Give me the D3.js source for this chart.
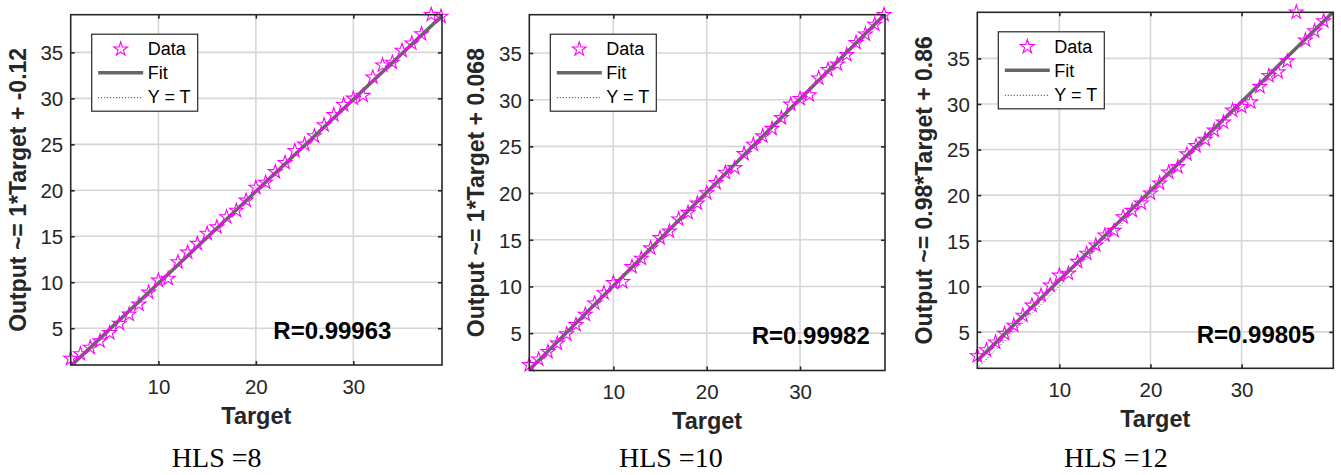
<!DOCTYPE html>
<html><head><meta charset="utf-8">
<script src="https://cdn.jsdelivr.net/npm/d3@7"></script>
<style>body{margin:0;background:#fff} svg{display:block}</style>
</head><body><svg id="c" width="1341" height="475"></svg>
<script>
const targets = [1,2,3,4,5,6,7,8,9,10,11,12,13,14,15,16,17,18,19,20,21,22,23,24,25,26,27,28,29,30,31,32,33,34,35,36,37,38,39];
const outputsHLS8 = [1.7,2.2,2.9,3.6,4.5,5.5,6.5,7.6,8.9,10.2,10.4,12.2,13.25,14.2,15.3,16.0,17.1,17.8,18.9,20.3,20.85,22.0,23.0,24.3,25.0,25.9,27.1,28.2,29.3,30.0,30.3,32.3,33.6,33.9,35.2,36.0,37.0,39.1,38.9];
const outputsHLS10 = [1.6,2.2,3.0,3.9,4.9,5.9,7.0,8.2,9.3,10.4,10.5,12.1,13.0,14.1,15.2,15.9,17.2,17.9,18.9,20.0,21.1,22.2,22.7,24.2,25.2,26.1,26.9,28.05,29.5,30.1,30.5,32.3,33.2,33.8,34.8,36.1,37.0,38.05,39.1];
const outputsHLS12 = [2.35,3.0,3.85,4.8,5.7,6.8,7.9,9.0,10.1,11.2,11.4,12.7,13.6,14.5,15.6,16.1,17.6,18.3,19.1,20.2,21.3,22.5,23.1,24.5,25.4,26.1,27.1,28.0,29.3,29.7,30.2,31.9,33.1,33.5,34.7,40.06,37.0,38.0,39.1];
const panelTitles = ["HLS =8","HLS =10","HLS =12"];
const fitSlopes = [1, 1, 0.98];
const fitIntercepts = [-0.12, 0.068, 0.86];
const yLabels = ["Output ~= 1*Target + -0.12","Output ~= 1*Target + 0.068","Output ~= 0.98*Target + 0.86"];
const rLabels = ["R=0.99963","R=0.99982","R=0.99805"];
const xTicks = [10,20,30];
const yTicks = [5,10,15,20,25,30,35];
const legendLabels = ["Data","Fit","Y = T"];
const xLabel = "Target";

const seriesOutputs = [outputsHLS8, outputsHLS10, outputsHLS12];

const layout = [
  {left:70.7, right:442, top:14.7, bottom:365, rx:273.3, ry:339, cap:216.7},
  {left:529.3, right:885, top:14.7, bottom:370.5, rx:751.7, ry:344.3, cap:670.8},
  {left:977.3, right:1333.3, top:12.3, bottom:368.3, rx:1196.7, ry:343.3, cap:1115.8}
];

const SANS = "'Liberation Sans', Arial, Helvetica, sans-serif";
const SERIF = "'Liberation Serif', 'Times New Roman', serif";
const AX = "#262626";
const MAG = "#ff00ff";
const FITC = "#666666";

const svg = d3.select("#c");
svg.append("rect").attr("width",1341).attr("height",475).attr("fill","#fff");

const star = d3.symbol().type(d3.symbolStar).size(60);

seriesOutputs.forEach((outs, i) => {
  const L = layout[i];
  const all = targets.concat(outs);
  const dom = d3.extent(all);
  const x = d3.scaleLinear().domain(dom).range([L.left, L.right]);
  const y = d3.scaleLinear().domain(dom).range([L.bottom, L.top]);
  const g = svg.append("g");
  const cid = "clip" + i;
  g.append("clipPath").attr("id", cid).append("rect")
    .attr("x", L.left).attr("y", L.top).attr("width", L.right - L.left).attr("height", L.bottom - L.top);

  // grid
  g.append("g").selectAll("line").data(xTicks).join("line")
    .attr("x1", d => x(d)).attr("x2", d => x(d)).attr("y1", L.top).attr("y2", L.bottom)
    .attr("stroke", "#d6d6d6").attr("stroke-width", 1.6);
  g.append("g").selectAll("line").data(yTicks).join("line")
    .attr("y1", d => y(d)).attr("y2", d => y(d)).attr("x1", L.left).attr("x2", L.right)
    .attr("stroke", "#d6d6d6").attr("stroke-width", 1.6);

  const plot = g.append("g").attr("clip-path", `url(#${cid})`);
  // Y = T
  plot.append("line")
    .attr("x1", x(dom[0])).attr("y1", y(dom[0])).attr("x2", x(dom[1])).attr("y2", y(dom[1]))
    .attr("stroke", "#222").attr("stroke-width", 1).attr("stroke-dasharray", "1,2");
  // fit
  const f = t => fitSlopes[i] * t + fitIntercepts[i];
  plot.append("line")
    .attr("x1", x(dom[0])).attr("y1", y(f(dom[0]))).attr("x2", x(dom[1])).attr("y2", y(f(dom[1])))
    .attr("stroke", FITC).attr("stroke-width", 3.5);

  // data stars
  g.append("g").selectAll("path").data(targets).join("path")
    .attr("d", star)
    .attr("transform", (t, k) => `translate(${x(t)},${y(outs[k])})`)
    .attr("fill", "none").attr("stroke", MAG).attr("stroke-width", 1.1);

  // axes box
  g.append("rect").attr("x", L.left).attr("y", L.top).attr("width", L.right - L.left).attr("height", L.bottom - L.top)
    .attr("fill", "none").attr("stroke", AX).attr("stroke-width", 1.6);

  const styleAxis = sel => {
    sel.select(".domain").remove();
    sel.selectAll(".tick line").attr("stroke", AX).attr("stroke-width", 1.6);
    sel.selectAll("text").attr("fill", AX).style("font-family", SANS).style("font-size", "20.5px");
  };
  const ax1 = g.append("g").attr("transform", `translate(0,${L.bottom})`)
    .call(d3.axisBottom(x).tickValues(xTicks).tickSizeInner(-4).tickSizeOuter(0));
  styleAxis(ax1);
  ax1.selectAll("text").attr("y", 28.5).attr("dy", 0);
  const ax2 = g.append("g").attr("transform", `translate(0,${L.top})`)
    .call(d3.axisTop(x).tickValues(xTicks).tickSizeInner(-4).tickSizeOuter(0).tickFormat(""));
  styleAxis(ax2);
  const ay1 = g.append("g").attr("transform", `translate(${L.left},0)`)
    .call(d3.axisLeft(y).tickValues(yTicks).tickSizeInner(-4).tickSizeOuter(0));
  styleAxis(ay1);
  ay1.selectAll("text").attr("x", -7.5).attr("dy", "0.36em");
  const ay2 = g.append("g").attr("transform", `translate(${L.right},0)`)
    .call(d3.axisRight(y).tickValues(yTicks).tickSizeInner(-4).tickSizeOuter(0).tickFormat(""));
  styleAxis(ay2);

  // axis labels
  g.append("text").attr("x", (L.left + L.right) / 2).attr("y", L.bottom + 58.5)
    .attr("text-anchor", "middle").attr("fill", AX)
    .style("font-family", SANS).style("font-size", "23.5px").style("font-weight", "bold")
    .text(xLabel);
  g.append("text")
    .attr("transform", `translate(${L.left - 45},${(L.top + L.bottom) / 2}) rotate(-90)`)
    .attr("text-anchor", "middle").attr("fill", AX)
    .style("font-family", SANS).style("font-size", "23px").style("font-weight", "bold")
    .text(yLabels[i]);

  // R text
  g.append("text").attr("x", L.rx).attr("y", L.ry).attr("fill", "#000")
    .style("font-family", SANS).style("font-size", "24px").style("font-weight", "bold")
    .text(rLabels[i]);

  // legend
  const lx = L.left + 21, ly = L.top + 19.5, lw = 106, lh = 77;
  const lg = g.append("g").attr("transform", `translate(${lx},${ly})`);
  lg.append("rect").attr("width", lw).attr("height", lh).attr("fill", "#fff")
    .attr("stroke", AX).attr("stroke-width", 1.2);
  lg.append("path").attr("d", star).attr("transform", "translate(29,15)")
    .attr("fill", "none").attr("stroke", MAG).attr("stroke-width", 1.1);
  lg.append("line").attr("x1", 6.5).attr("x2", 51.5).attr("y1", 38.5).attr("y2", 38.5)
    .attr("stroke", FITC).attr("stroke-width", 3.5);
  lg.append("line").attr("x1", 6.5).attr("x2", 51.5).attr("y1", 63.5).attr("y2", 63.5)
    .attr("stroke", "#222").attr("stroke-width", 1).attr("stroke-dasharray", "1,2");
  lg.selectAll("text.lt").data(legendLabels).join("text").attr("class", "lt")
    .attr("x", 56).attr("y", (d, k) => 21 + k * 24)
    .attr("fill", "#000")
    .style("font-family", SANS).style("font-size", "18px")
    .text(d => d);

  // caption
  svg.append("text").attr("x", L.cap).attr("y", 466.5).attr("text-anchor", "middle")
    .attr("fill", "#000").style("font-family", SERIF).style("font-size", "28px")
    .text(panelTitles[i]);
});
</script>
</body></html>
